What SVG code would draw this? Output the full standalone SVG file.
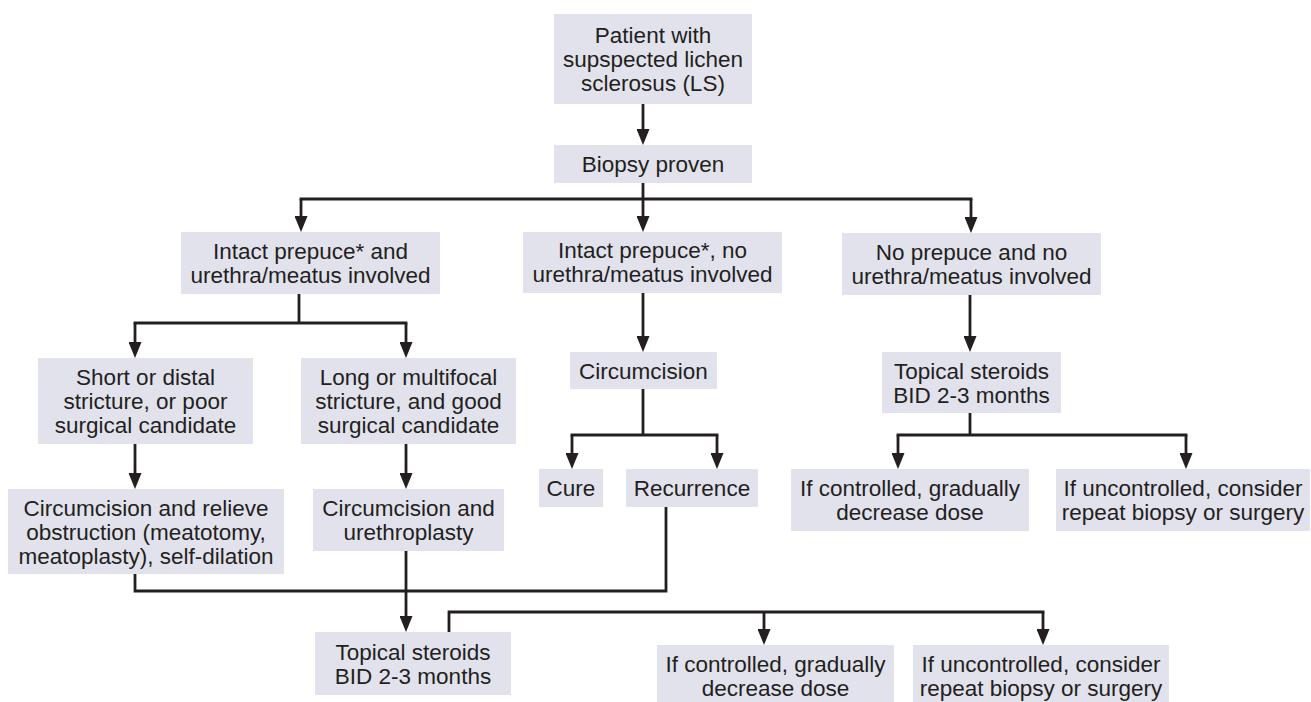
<svg xmlns="http://www.w3.org/2000/svg" width="1311" height="702" viewBox="0 0 1311 702">
<style>
.box{fill:#e2e2ed;}
.t{font-family:"Liberation Sans",Arial,Helvetica,sans-serif;font-size:22.5px;fill:#231f20;text-anchor:middle;}
.c{stroke:#231f20;stroke-width:2.8;fill:none;}
</style>
<defs>
<marker id="ah" markerUnits="userSpaceOnUse" markerWidth="16" markerHeight="13" viewBox="0 0 16 13" refX="8" refY="6.5" orient="auto">
<path d="M0,0 L16,6.5 L0,13 z" fill="#231f20"/>
</marker>
</defs>
<rect width="1311" height="702" fill="#ffffff"/>
<g id="connectors">
<line class="c" x1="643" y1="104" x2="643" y2="137" marker-end="url(#ah)"/>
<line class="c" x1="643" y1="183" x2="643" y2="199"/>
<line class="c" x1="299.6" y1="199" x2="972.4" y2="199"/>
<line class="c" x1="301" y1="199" x2="301" y2="224" marker-end="url(#ah)"/>
<line class="c" x1="643" y1="199" x2="643" y2="224" marker-end="url(#ah)"/>
<line class="c" x1="971" y1="199" x2="971" y2="225" marker-end="url(#ah)"/>
<line class="c" x1="299" y1="294" x2="299" y2="323"/>
<line class="c" x1="133.6" y1="323" x2="407.4" y2="323"/>
<line class="c" x1="135" y1="323" x2="135" y2="350" marker-end="url(#ah)"/>
<line class="c" x1="406" y1="323" x2="406" y2="350" marker-end="url(#ah)"/>
<line class="c" x1="135" y1="444" x2="135" y2="481" marker-end="url(#ah)"/>
<line class="c" x1="406" y1="444" x2="406" y2="481" marker-end="url(#ah)"/>
<line class="c" x1="643" y1="293" x2="643" y2="344" marker-end="url(#ah)"/>
<line class="c" x1="643" y1="389" x2="643" y2="435"/>
<line class="c" x1="570.6" y1="435" x2="718.4" y2="435"/>
<line class="c" x1="572" y1="435" x2="572" y2="461" marker-end="url(#ah)"/>
<line class="c" x1="717" y1="435" x2="717" y2="461" marker-end="url(#ah)"/>
<polyline class="c" points="666,507 666,591 135,591 135,574"/>
<line class="c" x1="406" y1="551" x2="406" y2="624" marker-end="url(#ah)"/>
<polyline class="c" points="449,632 449,612 1044.4,612"/>
<line class="c" x1="764" y1="612" x2="764" y2="637" marker-end="url(#ah)"/>
<line class="c" x1="1043" y1="612" x2="1043" y2="637" marker-end="url(#ah)"/>
<line class="c" x1="970" y1="295" x2="970" y2="344" marker-end="url(#ah)"/>
<line class="c" x1="970" y1="413" x2="970" y2="435"/>
<line class="c" x1="896.6" y1="435" x2="1187.4" y2="435"/>
<line class="c" x1="898" y1="435" x2="898" y2="461" marker-end="url(#ah)"/>
<line class="c" x1="1186" y1="435" x2="1186" y2="461" marker-end="url(#ah)"/>
</g>
<g id="n-patient"><rect class="box" x="554" y="14" width="198" height="90"/>
<text class="t" x="653" y="43">Patient with</text><text class="t" x="653" y="67">supspected lichen</text><text class="t" x="653" y="91">sclerosus (LS)</text></g>
<g id="n-biopsy"><rect class="box" x="554" y="145" width="198" height="38"/>
<text class="t" x="653" y="172">Biopsy proven</text></g>
<g id="n-intact-involved"><rect class="box" x="181" y="232" width="259" height="62"/>
<text class="t" x="310.5" y="259">Intact prepuce* and</text><text class="t" x="310.5" y="283">urethra/meatus involved</text></g>
<g id="n-intact-no"><rect class="box" x="523" y="232" width="259" height="61"/>
<text class="t" x="652.5" y="258">Intact prepuce*, no</text><text class="t" x="652.5" y="282">urethra/meatus involved</text></g>
<g id="n-noprepuce"><rect class="box" x="842" y="233" width="259" height="62"/>
<text class="t" x="971.5" y="260">No prepuce and no</text><text class="t" x="971.5" y="284">urethra/meatus involved</text></g>
<g id="n-short"><rect class="box" x="38" y="358" width="215" height="86"/>
<text class="t" x="145.5" y="385">Short or distal</text><text class="t" x="145.5" y="409">stricture, or poor</text><text class="t" x="145.5" y="433">surgical candidate</text></g>
<g id="n-long"><rect class="box" x="301" y="358" width="215" height="86"/>
<text class="t" x="408.5" y="385">Long or multifocal</text><text class="t" x="408.5" y="409">stricture, and good</text><text class="t" x="408.5" y="433">surgical candidate</text></g>
<g id="n-relieve"><rect class="box" x="8" y="489" width="276" height="85"/>
<text class="t" x="146" y="515.5">Circumcision and relieve</text><text class="t" x="146" y="539.5">obstruction (meatotomy,</text><text class="t" x="146" y="563.5">meatoplasty), self-dilation</text></g>
<g id="n-urethroplasty"><rect class="box" x="313" y="489" width="191" height="62"/>
<text class="t" x="408.5" y="516">Circumcision and</text><text class="t" x="408.5" y="540">urethroplasty</text></g>
<g id="n-circumcision"><rect class="box" x="570" y="352" width="147" height="37"/>
<text class="t" x="643.5" y="379">Circumcision</text></g>
<g id="n-cure"><rect class="box" x="539" y="469" width="64" height="38"/>
<text class="t" x="571" y="496">Cure</text></g>
<g id="n-recurrence"><rect class="box" x="626" y="469" width="132" height="38"/>
<text class="t" x="692" y="496">Recurrence</text></g>
<g id="n-topical-right"><rect class="box" x="882" y="352" width="179" height="61"/>
<text class="t" x="971.5" y="378.5">Topical steroids</text><text class="t" x="971.5" y="402.5">BID 2-3 months</text></g>
<g id="n-controlled-right"><rect class="box" x="791" y="469" width="238" height="62"/>
<text class="t" x="910" y="496">If controlled, gradually</text><text class="t" x="910" y="520">decrease dose</text></g>
<g id="n-uncontrolled-right"><rect class="box" x="1056" y="469" width="254" height="62"/>
<text class="t" x="1183" y="496">If uncontrolled, consider</text><text class="t" x="1183" y="520">repeat biopsy or surgery</text></g>
<g id="n-topical-bottom"><rect class="box" x="315" y="632" width="196" height="63"/>
<text class="t" x="413" y="659.5">Topical steroids</text><text class="t" x="413" y="683.5">BID 2-3 months</text></g>
<g id="n-controlled-bottom"><rect class="box" x="657" y="645" width="237" height="58"/>
<text class="t" x="775.5" y="672">If controlled, gradually</text><text class="t" x="775.5" y="696">decrease dose</text></g>
<g id="n-uncontrolled-bottom"><rect class="box" x="913" y="645" width="256" height="58"/>
<text class="t" x="1041" y="672">If uncontrolled, consider</text><text class="t" x="1041" y="696">repeat biopsy or surgery</text></g>
</svg>
